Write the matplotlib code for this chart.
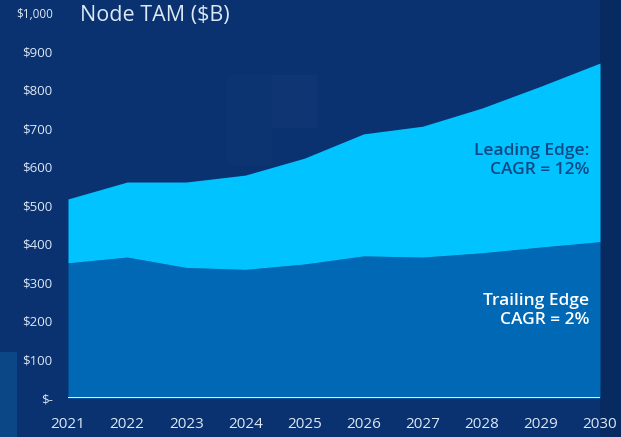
import numpy as np
import matplotlib.pyplot as plt
from matplotlib.patches import Rectangle

# Node TAM by year, $B
years = [2021, 2022, 2023, 2024, 2025, 2026, 2027, 2028, 2029, 2030]
trailing = [351, 366, 339, 334, 348, 369, 366, 377, 392, 406]
leading = [166, 195, 222, 245, 275, 317, 340, 376, 418, 464]
yticks = [0, 100, 200, 300, 400, 500, 600, 700, 800, 900, 1000]
ytick_labels = ['$-', '$100', '$200', '$300', '$400', '$500', '$600',
                '$700', '$800', '$900', '$1,000']

bg = '#0a3270'
c_trail = '#0068b5'
c_lead = '#00c3ff'
txt = '#dce8f5'

plt.rcParams['font.family'] = ['Open Sans', 'DejaVu Sans']

fig = plt.figure(figsize=(6.21, 4.37), dpi=100)
fig.patch.set_facecolor(bg)

# background decoration blocks
for (x0, y0, w, h, c, a) in [
        (0, 0, 0.028, 0.195, '#0b4686', 1.0),
        (227 / 621, 1 - 165 / 437, 45 / 621, 90 / 437, '#ffffff', 0.012),
        (272 / 621, 1 - 128 / 437, 45 / 621, 53 / 437, '#ffffff', 0.025),
        (600 / 621, 0, 21 / 621, 1, '#072b60', 1.0)]:
    fig.patches.append(Rectangle((x0, y0), w, h, transform=fig.transFigure,
                                 facecolor=c, alpha=a, edgecolor='none', zorder=-1))

ax = fig.add_axes([68 / 621, 39 / 437, 532 / 621, 385 / 437])
ax.set_facecolor('none')
ax.set_zorder(1)

trailing = np.array(trailing)
total = trailing + np.array(leading)
ax.fill_between(years, 0, trailing, color=c_trail, linewidth=0)
ax.fill_between(years, trailing, total, color=c_lead, linewidth=0)
ax.axhline(0, color='white', linewidth=2, zorder=3)

ax.set_xlim(years[0], years[-1])
ax.set_ylim(0, 1000)
ax.set_xticks(years)
ax.set_xticklabels([str(y) for y in years], color=txt, fontsize=11)
ax.set_yticks(yticks)
ax.set_yticklabels(ytick_labels, color=txt, fontsize=9.5)
ax.get_yticklabels()[-1].set_fontsize(8.5)
ax.tick_params(axis='x', length=0, pad=14)
ax.tick_params(axis='y', length=0, pad=11)
for s in ax.spines.values():
    s.set_visible(False)

fig.text(80 / 621, 1 - 16 / 437, 'Node TAM ($B)', color=txt, fontsize=15.5,
         va='center', ha='left')

ax.text(2029.82, 618, 'Leading Edge:\nCAGR = 12%', color='#0d4a85',
        fontsize=12.5, fontweight='semibold', ha='right', va='center',
        linespacing=1.25)
ax.text(2029.82, 228, 'Trailing Edge\nCAGR = 2%', color='white',
        fontsize=12.5, fontweight='semibold', ha='right', va='center',
        linespacing=1.25)

fig.savefig('out.png', dpi=100, facecolor=fig.get_facecolor())
